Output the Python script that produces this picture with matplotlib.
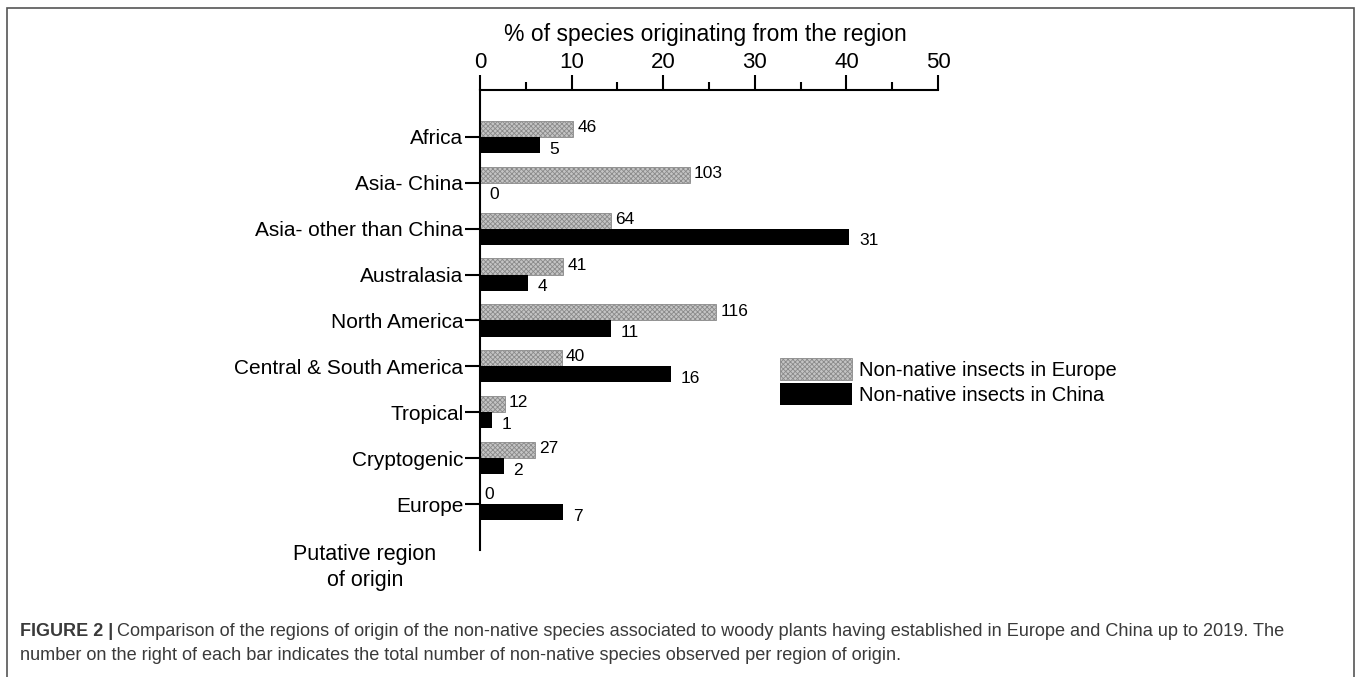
import matplotlib
matplotlib.use("Agg")
import matplotlib.pyplot as plt
from matplotlib.patches import Rectangle, Patch
import numpy as np

plt.rcParams['font.family'] = ['Liberation Sans', 'DejaVu Sans']
plt.rcParams['hatch.linewidth'] = 0.6
plt.rcParams['hatch.color'] = '#777777'

regions = ['Africa', 'Asia- China', 'Asia- other than China', 'Australasia',
           'North America', 'Central & South America', 'Tropical',
           'Cryptogenic', 'Europe']
# % of species per region
pct_europe = [10.2, 22.9, 14.3, 9.1, 25.8, 8.9, 2.7, 6.0, 0.0]
pct_china = [6.5, 0.0, 40.3, 5.2, 14.3, 20.8, 1.3, 2.6, 9.1]
# number of species printed next to each bar
n_europe = [46, 103, 64, 41, 116, 40, 12, 27, 0]
n_china = [5, 0, 31, 4, 11, 16, 1, 2, 7]

W, H = 1358, 677
fig = plt.figure(figsize=(W / 100, H / 100), dpi=100)

# outer frame of the figure panel
fig.patches.append(Rectangle((7 / W, -0.05), (1354 - 7) / W, 1 - 8 / H + 0.05,
                             transform=fig.transFigure, fill=False,
                             edgecolor='#555555', linewidth=1.2))

ax = fig.add_axes([480 / W, 1 - 550 / H, 458 / W, 460 / H])
y = np.arange(len(regions))
h = 0.35
eu_style = dict(facecolor='#c4c4c4', hatch='xxxxxxx', edgecolor='#8a8a8a', linewidth=0.6)
ax.barh(y - h / 2, pct_europe, height=h, **eu_style)
ax.barh(y + h / 2, pct_china, height=h, color='black')

for i in range(len(regions)):
    ax.annotate(str(n_europe[i]), (pct_europe[i], y[i] - h / 2), xytext=(3, 1),
                textcoords='offset points', va='center', ha='left', fontsize=12.5)
    ax.annotate(str(n_china[i]), (pct_china[i], y[i] + h / 2), xytext=(7, -3),
                textcoords='offset points', va='center', ha='left', fontsize=12.5)

ax.set_xlim(0, 50)
ax.set_ylim(len(regions) - 0.0, -1.02)
ax.xaxis.tick_top()
ax.set_xticks(np.arange(0, 51, 10))
ax.set_xticks(np.arange(5, 50, 10), minor=True)
ax.tick_params(axis='x', which='major', length=11, width=1.5, labelsize=16, pad=1)
ax.tick_params(axis='x', which='minor', length=6, width=1.5)
ax.set_yticks(y)
ax.set_yticklabels(regions)
ax.tick_params(axis='y', length=11, width=1.5, labelsize=15, pad=1)
for s in ['right', 'bottom']:
    ax.spines[s].set_visible(False)
for s in ['top', 'left']:
    ax.spines[s].set_linewidth(1.5)

fig.text(705 / W, 1 - 35 / H, '% of species originating from the region',
         ha='center', va='center', fontsize=16.5)
fig.text(365 / W, 1 - 560 / H, 'Putative region', ha='center', va='baseline', fontsize=15.5)
fig.text(365 / W, 1 - 586 / H, 'of origin', ha='center', va='baseline', fontsize=15.5)

handles = [Patch(**eu_style), Patch(facecolor='black')]
fig.legend(handles, ['Non-native insects in Europe', 'Non-native insects in China'],
           loc='upper left', bbox_to_anchor=(780 / W, 1 - 358 / H), frameon=False,
           fontsize=14.5, handlelength=3.6, handleheight=1.3, handletextpad=0.3,
           labelspacing=0.15, borderpad=0, borderaxespad=0)

# caption
cap_col = '#3a3a3a'
t1 = fig.text(20 / W, 1 - 632 / H, 'FIGURE 2 |', fontsize=13, fontweight='bold',
              color=cap_col, va='center')
fig.canvas.draw()
bb = t1.get_window_extent()
fig.text((bb.x1 + 4) / W, 1 - 632 / H,
         'Comparison of the regions of origin of the non-native species associated to woody '
         'plants having established in Europe and China up to 2019. The',
         fontsize=13.1, color=cap_col, va='center')
fig.text(20 / W, 1 - 655 / H,
         'number on the right of each bar indicates the total number of non-native species '
         'observed per region of origin.',
         fontsize=13.1, color=cap_col, va='center')

fig.savefig('out.png', dpi=100)
